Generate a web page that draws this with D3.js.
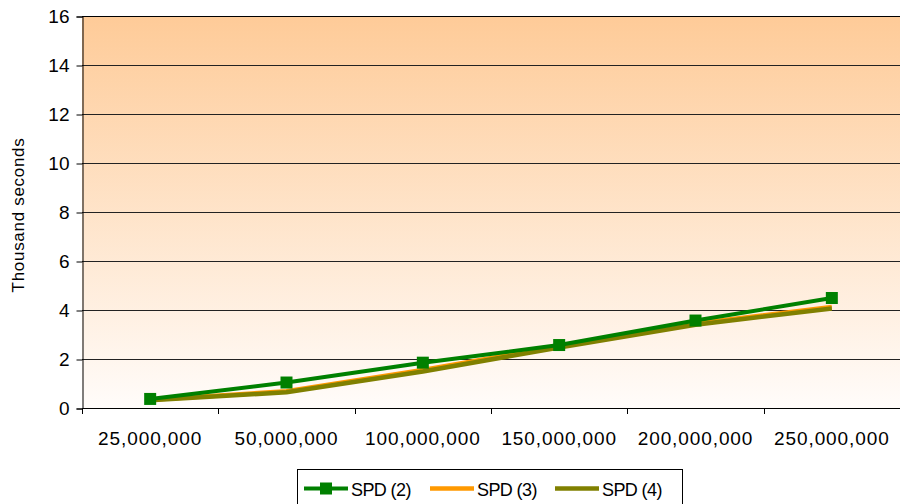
<!DOCTYPE html>
<html>
<head>
<meta charset="utf-8">
<script src="https://cdn.jsdelivr.net/npm/d3@7"></script>
<style>
  html, body { margin: 0; padding: 0; background: #fff; }
  svg { display: block; font-family: "Liberation Sans", Arial, sans-serif; }
</style>
</head>
<body>
<svg id="chart" width="900" height="504"></svg>
<script>
// Problem sizes on the category axis
const categories = ["25,000,000", "50,000,000", "100,000,000", "150,000,000", "200,000,000", "250,000,000"];
// Run time in thousand seconds for each configuration
const spd2 = [0.37, 1.04, 1.85, 2.57, 3.57, 4.49];
const spd3 = [0.34, 0.68, 1.55, 2.52, 3.45, 4.12];
const spd4 = [0.32, 0.64, 1.49, 2.47, 3.40, 4.06];
const seriesNames = ["SPD (2)", "SPD (3)", "SPD (4)"];
const yTicks = [0, 2, 4, 6, 8, 10, 12, 14, 16];

const series = [
  { name: seriesNames[0], values: spd2, color: "#008000", width: 4, marker: true },
  { name: seriesNames[1], values: spd3, color: "#FF9900", width: 4.5, marker: false },
  { name: seriesNames[2], values: spd4, color: "#808000", width: 4.5, marker: false }
];

const svg = d3.select("#chart");
const plot = { left: 82, top: 16, right: 900, bottom: 408 };

const x = d3.scaleBand().domain(categories).range([plot.left, plot.right]).padding(0);
const y = d3.scaleLinear().domain([0, 16]).range([plot.bottom, plot.top]);

// Plot area background: peach fading to near white
const defs = svg.append("defs");
const grad = defs.append("linearGradient").attr("id", "bg").attr("x1", 0).attr("y1", 0).attr("x2", 0).attr("y2", 1);
grad.append("stop").attr("offset", "0%").attr("stop-color", "#FECB98");
grad.append("stop").attr("offset", "100%").attr("stop-color", "#FFFCFA");
svg.append("rect")
  .attr("x", plot.left).attr("y", plot.top)
  .attr("width", plot.right - plot.left).attr("height", plot.bottom - plot.top)
  .attr("fill", "url(#bg)");

// Horizontal gridlines
svg.append("g").selectAll("line").data(yTicks.filter(d => d > 0)).join("line")
  .attr("x1", plot.left).attr("x2", plot.right)
  .attr("y1", d => Math.round(y(d)) + 0.5).attr("y2", d => Math.round(y(d)) + 0.5)
  .attr("stroke", d => d === 16 ? "#000" : "#222").attr("stroke-width", 1);

// Y axis
const yAxis = d3.axisLeft(y).tickValues(yTicks).tickSize(6).tickPadding(7).tickFormat(d3.format("d"));
const gy = svg.append("g").attr("transform", `translate(${plot.left + 0.5},0.5)`).call(yAxis);
gy.attr("font-size", null).attr("font-family", null);
gy.select(".domain").attr("stroke", "#000");
gy.selectAll(".tick line").attr("stroke", "#000");
gy.selectAll("text").style("font-size", "19px").attr("fill", "#000")
  .style("font-family", "'Liberation Sans', Arial, sans-serif");

// X axis with ticks between categories
const boundaries = categories.map(c => x(c)).concat([plot.right]);
svg.append("line")
  .attr("x1", plot.left).attr("x2", plot.right)
  .attr("y1", plot.bottom + 0.5).attr("y2", plot.bottom + 0.5)
  .attr("stroke", "#000");
svg.append("g").selectAll("line").data(boundaries).join("line")
  .attr("x1", d => Math.round(d) + 0.5).attr("x2", d => Math.round(d) + 0.5)
  .attr("y1", plot.bottom).attr("y2", plot.bottom + 6)
  .attr("stroke", "#000");
svg.append("g").selectAll("text").data(categories).join("text")
  .attr("x", d => x(d) + x.bandwidth() / 2)
  .attr("y", 445)
  .attr("text-anchor", "middle")
  .style("font-size", "19px")
  .attr("letter-spacing", 0.9)
  .attr("fill", "#000")
  .text(d => d);

// Y axis title
svg.append("text")
  .attr("transform", `translate(24,${(plot.top + plot.bottom) / 2 + 3}) rotate(-90)`)
  .attr("text-anchor", "middle")
  .style("font-size", "17px")
  .attr("letter-spacing", 0.7)
  .attr("fill", "#000")
  .text("Thousand seconds");

// Series lines (drawn last-to-first so the marked series is on top)
const line = d3.line()
  .x((d, i) => x(categories[i]) + x.bandwidth() / 2)
  .y(d => y(d));

const order = [1, 2, 0];
order.forEach(k => {
  const s = series[k];
  svg.append("path")
    .datum(s.values)
    .attr("d", line)
    .attr("fill", "none")
    .attr("stroke", s.color)
    .attr("stroke-width", s.width)
    .attr("stroke-linejoin", "round");
  if (s.marker) {
    svg.append("g").selectAll("rect").data(s.values).join("rect")
      .attr("x", (d, i) => x(categories[i]) + x.bandwidth() / 2 - 6)
      .attr("y", d => y(d) - 6)
      .attr("width", 12).attr("height", 12)
      .attr("fill", s.color);
  }
});

// Legend
const legend = svg.append("g");
legend.append("rect")
  .attr("x", 297.5).attr("y", 469.5).attr("width", 385).attr("height", 40)
  .attr("fill", "#fff").attr("stroke", "#000").attr("stroke-width", 1);
const legendX = [304, 430, 555];
series.forEach((s, k) => {
  const lx = legendX[k];
  legend.append("line")
    .attr("x1", lx).attr("x2", lx + 44)
    .attr("y1", 488.5).attr("y2", 488.5)
    .attr("stroke", s.color).attr("stroke-width", s.width);
  if (s.marker) {
    legend.append("rect")
      .attr("x", lx + 22 - 6).attr("y", 488.5 - 6)
      .attr("width", 12).attr("height", 12).attr("fill", s.color);
  }
  legend.append("text")
    .attr("x", lx + 47).attr("y", 496)
    .style("font-size", "18px")
    .attr("letter-spacing", -0.6)
    .attr("fill", "#000")
    .text(s.name);
});
</script>
</body>
</html>
